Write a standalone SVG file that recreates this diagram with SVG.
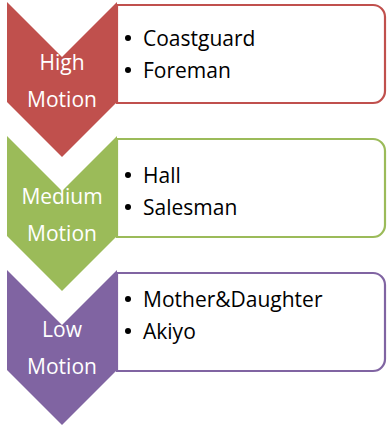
<svg xmlns="http://www.w3.org/2000/svg" width="387" height="430" viewBox="0 0 387 430">
<style>
.lbl{font-family:"Open Sans","Liberation Sans",sans-serif;font-size:21px;fill:#ffffff;text-anchor:middle}
.itm{font-family:"Open Sans","Liberation Sans",sans-serif;font-size:21px;fill:#000000}
.box{fill:#ffffff;stroke-width:2.2}
.blt{fill:#000000}
</style>
<rect width="387" height="430" fill="#ffffff"/>
<g id="high">
<path class="box" stroke="#c0504d" d="M117,5 H373 A12,12 0 0 1 385,17 V91 A12,12 0 0 1 373,103 H117 Z"/>
<path fill="#c0504d" d="M7,2 L62,57 L117,2 V102 L62,157 L7,102 Z"/>
<text class="lbl" x="62" y="70">High</text>
<text class="lbl" x="62" y="107">Motion</text>
<circle class="blt" cx="128" cy="38" r="3"/>
<text class="itm" x="143" y="46">Coastguard</text>
<circle class="blt" cx="128" cy="70" r="3"/>
<text class="itm" x="143" y="78">Foreman</text>
</g>
<g id="medium">
<path class="box" stroke="#9bbb59" d="M117,139 H373 A12,12 0 0 1 385,151 V225 A12,12 0 0 1 373,237 H117 Z"/>
<path fill="#9bbb59" d="M7,136 L62,191 L117,136 V236 L62,291 L7,236 Z"/>
<text class="lbl" x="62" y="204">Medium</text>
<text class="lbl" x="62" y="241">Motion</text>
<circle class="blt" cx="128" cy="175" r="3"/>
<text class="itm" x="143" y="183">Hall</text>
<circle class="blt" cx="128" cy="207" r="3"/>
<text class="itm" x="143" y="215">Salesman</text>
</g>
<g id="low">
<path class="box" stroke="#8064a2" d="M117,273 H373 A12,12 0 0 1 385,285 V359 A12,12 0 0 1 373,371 H117 Z"/>
<path fill="#8064a2" d="M7,270 L62,325 L117,270 V370 L62,425 L7,370 Z"/>
<text class="lbl" x="62" y="337">Low</text>
<text class="lbl" x="62" y="374">Motion</text>
<circle class="blt" cx="128" cy="299" r="3"/>
<text class="itm" x="143" y="307">Mother&amp;Daughter</text>
<circle class="blt" cx="128" cy="331" r="3"/>
<text class="itm" x="143" y="339">Akiyo</text>
</g>
<g id="connectors"/>
</svg>
